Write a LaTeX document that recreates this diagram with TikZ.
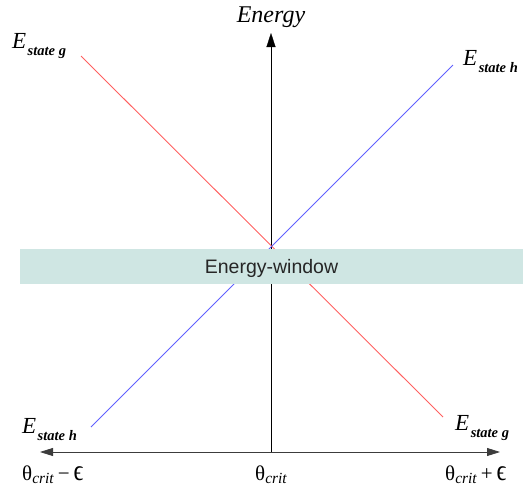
\documentclass[tikz,border=0pt]{standalone}
\usepackage{fontspec}
\setmainfont{Liberation Serif}
\setsansfont{Liberation Sans}
\usepackage{xcolor}
\usetikzlibrary{arrows.meta,positioning}
\definecolor{stateg}{RGB}{255,96,96}
\definecolor{stateh}{RGB}{96,96,255}
\definecolor{windowteal}{RGB}{207,230,227}
\definecolor{axisgrey}{RGB}{60,60,60}
\tikzset{
  axis/.style={very thin,draw=black,-{Triangle[length=14pt,width=9pt]}},
  haxis/.style={thick,draw=axisgrey,
    {Triangle[length=13pt,width=8pt]}-{Triangle[length=13pt,width=8pt]}},
  gline/.style={draw=stateg,line width=0.9pt},
  hline/.style={draw=stateh,line width=0.9pt},
  windowband/.style={fill=windowteal,inner sep=0pt,minimum width=503pt,
    minimum height=35pt,text depth=0pt,font=\sffamily\fontsize{19.5}{22}\selectfont,
    text=black!85},
  elabel/.style={font=\fontsize{23}{25}\selectfont,inner sep=0pt},
  thlabel/.style={font=\fontsize{21}{23}\selectfont,inner sep=0pt}
}
\newcommand{\Estate}[1]{\textit{E}\hspace{1.5pt}\raisebox{-7pt}{\fontsize{14.5}{16}\selectfont\bfseries\itshape state #1}}
\newcommand{\thcrit}{θ\raisebox{-3.5pt}{\fontsize{15.5}{17}\selectfont\itshape crit}}
\newcommand{\eps}{\scalebox{1.15}[1.4]{ϵ}}

\begin{document}
\begin{tikzpicture}[x=1pt,y=-1pt]
  \useasboundingbox (0,0) rectangle (523,499);
  % axes
  \coordinate (origin) at (271,452);
  \coordinate (etop) at (271,33);
  \coordinate (left) at (40,452);
  \coordinate (right) at (500,452);
  \draw[axis] (origin) -- (etop);
  \draw[haxis] (left) -- (right);
  % state lines
  \coordinate (gtop) at (81,56);
  \coordinate (gbot) at (443,417);
  \coordinate (htop) at (453,65);
  \coordinate (hbot) at (91,427);
  \draw[gline] (gtop) -- (gbot);
  \draw[hline] (htop) -- (hbot);
  % window
  \node[windowband] (window) at (271.5,266.5) {Energy-window};
  % labels
  \node[elabel,font=\fontsize{24}{26}\selectfont,anchor=base] (energy) at (271,22) {\textit{Energy}};
  \node[elabel,anchor=base west] (egtop) at (12,48) {\Estate{g}};
  \node[elabel,anchor=base west] (ehtop) at (463,65) {\Estate{h}};
  \node[elabel,anchor=base west] (ehbot) at (22,433) {\Estate{h}};
  \node[elabel,anchor=base west] (egbot) at (455,430) {\Estate{g}};
  \node[thlabel,anchor=base west] (thminus) at (22,480) {\thcrit\hspace{4pt}−\hspace{4pt}\eps};
  \node[thlabel,anchor=base] (thzero) at (271,480) {\thcrit};
  \node[thlabel,anchor=base west] (thplus) at (445,480) {\thcrit\hspace{4pt}+\hspace{4pt}\eps};
\end{tikzpicture}
\end{document}
